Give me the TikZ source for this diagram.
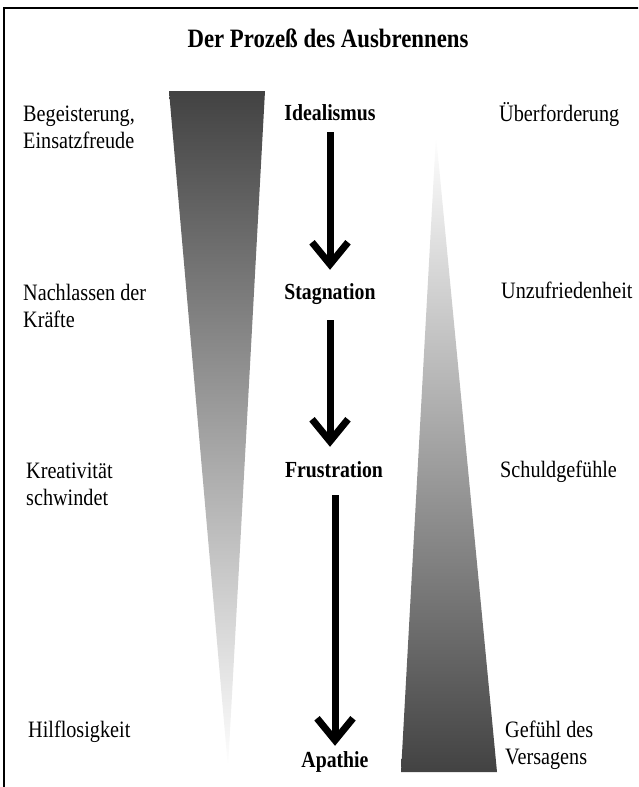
\documentclass[tikz,border=0pt]{standalone}
\usepackage{fontspec}
\setmainfont{Liberation Serif}[FakeStretch=0.86]
\usetikzlibrary{arrows.meta}
\definecolor{wedgegray}{gray}{0.26}

\begin{document}
\begin{tikzpicture}[x=1pt,y=-1pt,
  sidetext/.style={anchor=base west,inner sep=0pt,align=left,font=\fontsize{23.5}{27}\selectfont},
  stage/.style={anchor=base,inner sep=0pt,text height=16pt,text depth=6pt,font=\fontsize{23}{26}\selectfont\bfseries},
  flow/.style={line width=7pt,-{Straight Barb[length=22pt,width=36pt]}}]
  \useasboundingbox (0,0) rectangle (638,787);
  \clip (0,0) rectangle (638,787);
  \draw[line width=2pt] (4,800) -- (4,8) -- (660,8);
  \node[anchor=base,inner sep=0pt,font=\fontsize{26.5}{30}\selectfont\bfseries] (title) at (328,47) {Der Prozeß des Ausbrennens};
  % wedges
  \shade[top color=wedgegray, bottom color=white] (169,91) -- (265,91) -- (228,768) -- cycle;
  \shade[top color=white, bottom color=wedgegray] (436,135) -- (497,772) -- (401,772) -- cycle;
  % left column (base = last line)
  \node[sidetext] (begeist) at (23,148) {Begeisterung,\\Einsatzfreude};
  \node[sidetext] (nachlass) at (23,327) {Nachlassen der\\Kräfte};
  \node[sidetext] (kreativ) at (26,505) {Kreativität\\schwindet};
  \node[sidetext] (hilflos) at (28,737) {Hilflosigkeit};
  % stages
  \node[stage] (ideal) at (330,120) {Idealismus};
  \node[stage] (stag) at (330,299) {Stagnation};
  \node[stage] (frust) at (334,477) {Frustration};
  \node[stage] (apath) at (335,767) {Apathie};
  \draw[flow, shorten <=6pt, shorten >=13pt] (ideal) -- (stag);
  \draw[flow, shorten <=15pt, shorten >=14pt] (stag.south) -- (stag.south |- frust.north);
  \draw[flow, shorten <=12pt, shorten >=5pt] (frust.south -| apath) -- (apath);
  % right column
  \node[sidetext] (ueberf) at (499,121) {Überforderung};
  \node[sidetext] (unzufr) at (501,298) {Unzufriedenheit};
  \node[sidetext] (schuld) at (500,477) {Schuldgefühle};
  \node[sidetext] (versag) at (505,764) {Gefühl des\\Versagens};
\end{tikzpicture}
\end{document}
